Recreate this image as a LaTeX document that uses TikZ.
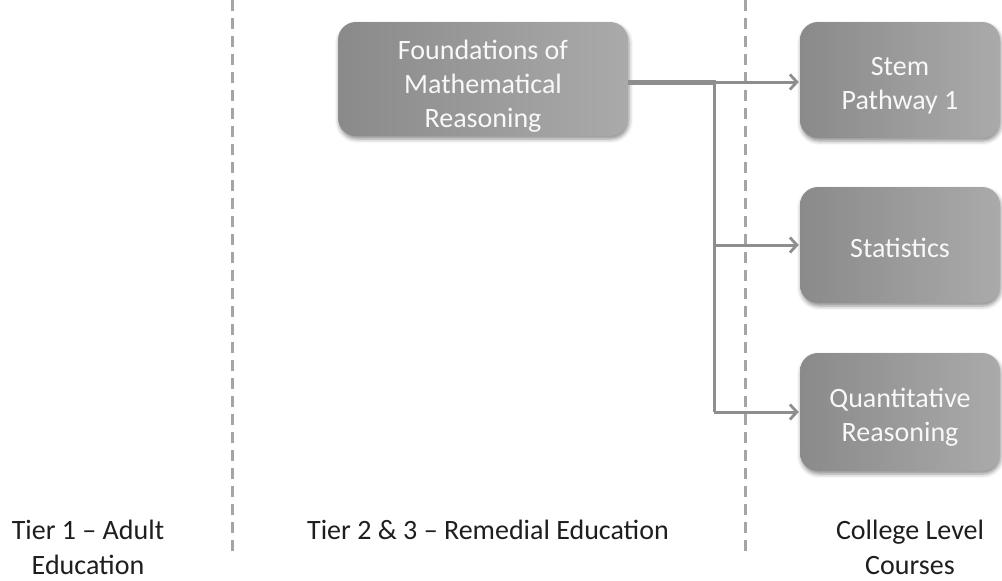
\documentclass[tikz,border=0pt]{standalone}
\usepackage{fontspec}
\setmainfont{Carlito}
\usetikzlibrary{arrows.meta,shadows.blur}
\definecolor{boxL}{RGB}{138,138,138}
\definecolor{boxR}{RGB}{170,170,170}
\definecolor{boxText}{RGB}{248,248,248}
\definecolor{lineGray}{RGB}{142,142,142}
\definecolor{dashGray}{RGB}{165,165,165}
\definecolor{labelText}{RGB}{30,30,30}
\tikzset{
  course/.style={rounded corners=18pt, shading=axis, left color=boxL, right color=boxR,
    shading angle=90, draw=none, inner sep=0pt,
    blur shadow={shadow xshift=1pt, shadow yshift=-3pt, shadow blur radius=4pt, shadow opacity=45}},
  coursetext/.style={text=boxText, align=center, inner sep=0pt,
    font=\fontsize{28}{34}\selectfont},
  tierlabel/.style={text=labelText, align=center, font=\fontsize{28}{35}\selectfont},
  divider/.style={draw=dashGray, line width=3pt, dash pattern=on 11pt off 7pt},
  feed/.style={draw=lineGray, line width=3pt},
  trunk/.style={draw=lineGray, line width=5pt},
  arrowfeed/.style={feed, -{Straight Barb[length=7pt,width=15pt,line width=2.8pt]}, shorten >=1pt}
}
\begin{document}
\begin{tikzpicture}[x=1pt,y=-1pt]
  \useasboundingbox (0,0) rectangle (1002,581);

  % tier dividers
  \coordinate (d1top) at (232,0);
  \coordinate (d1bot) at (232,552);
  \coordinate (d2top) at (745,0);
  \coordinate (d2bot) at (745,552);
  \draw[divider] (d1top) -- (d1bot);
  \draw[divider] (d2top) -- (d2bot);

  % course boxes
  \node[course, minimum width=290pt, minimum height=114pt] (found) at (483,79) {};
  \node[course, minimum width=200pt, minimum height=116pt] (stem) at (900,80) {};
  \node[course, minimum width=200pt, minimum height=116pt] (stats) at (900,245) {};
  \node[course, minimum width=200pt, minimum height=118pt] (quant) at (900,412) {};

  % course titles, set a little below each box centre
  \node[coursetext] (foundtxt) at ([yshift=-7pt]found.center) {Foundations of\\Mathematical\\Reasoning};
  \node[coursetext] (stemtxt) at ([yshift=-6pt]stem.center) {Stem\\Pathway 1};
  \node[coursetext] (statstxt) at ([yshift=-3pt]stats.center) {Statistics};
  \node[coursetext] (quanttxt) at ([yshift=-5pt]quant.center) {Quantitative\\Reasoning};

  % branching connectors
  \coordinate (j) at (714,82);
  \draw[trunk] (found.east |- j) -- ([xshift=1.5pt]j);
  \draw[feed] (j) -- (j |- quant.west);
  \draw[arrowfeed] (j) -- (stem.west |- j);
  \draw[arrowfeed] (j |- stats.west) -- (stats.west);
  \draw[arrowfeed] (j |- quant.west) -- (quant.west);

  % tier labels
  \node[tierlabel] (t1) at (88,547) {Tier 1 -- Adult\\Education};
  \node[tierlabel] (t2) at (488,530) {Tier 2 \& 3 -- Remedial Education};
  \node[tierlabel] (t3) at (910,547) {College Level\\Courses};
\end{tikzpicture}
\end{document}
